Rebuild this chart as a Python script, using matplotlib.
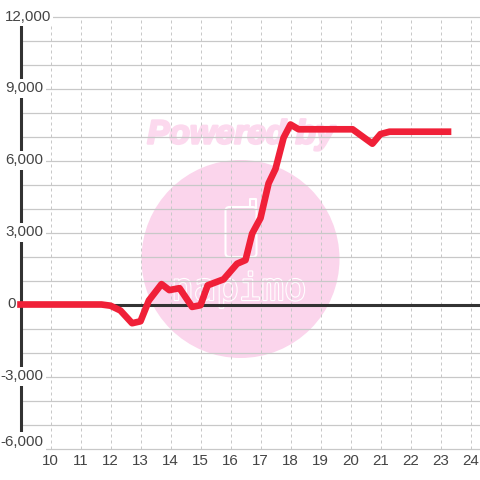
import matplotlib
matplotlib.use("Agg")
import matplotlib.pyplot as plt
import matplotlib.patheffects as pe
from matplotlib.patches import Circle, FancyBboxPatch

hours = [9, 11.7, 12, 12.33, 12.72, 13, 13.28, 13.7, 13.96, 14.3, 14.72, 15, 15.24, 15.77, 16.22, 16.5, 16.72, 17, 17.27, 17.5, 17.77, 18, 18.27, 20.07, 20.4, 20.73, 21.0, 21.3, 23.25]
values = [0, 0, -50, -250, -780, -700, 170, 850, 600, 680, -100, -30, 800, 1050, 1700, 1850, 2950, 3600, 5050, 5650, 6950, 7500, 7300, 7300, 7000, 6700, 7100, 7200, 7200]
xticks = list(range(10, 25))
yticks = list(range(-6000, 12001, 3000))
grid_levels = list(range(-6000, 12001, 1000))

plt.rcParams['font.family'] = ['Liberation Sans', 'DejaVu Sans']
fig = plt.figure(figsize=(4.8, 4.8), dpi=100)

# watermark layer, in pixel units of the picture
bg = fig.add_axes([0, 0, 1, 1], zorder=0)
bg.set_xlim(0, 480)
bg.set_ylim(480, 0)
bg.axis('off')
pink = '#fbd5ec'
bg.add_patch(Circle((240.5, 259), 99, color=pink, lw=0))
bg.add_patch(FancyBboxPatch((225.5, 207), 31, 50, boxstyle='round,pad=0,rounding_size=4', fc='none', ec='white', lw=1.5))
bg.plot([250, 250, 256, 256], [207, 199, 199, 207], color='white', lw=1.5)
bg.text(241, 135, 'Powered by', fontsize=24, fontweight='bold', style='italic', color='#fcd9ee', ha='center', va='center',
        path_effects=[pe.withStroke(linewidth=1.8, foreground='#fcd9ee')])
bg.text(239, 290, 'napimo', fontsize=27, family='DejaVu Sans Mono', color=pink, ha='center', va='center',
        path_effects=[pe.withStroke(linewidth=1.6, foreground='white')])

ax = fig.add_axes([0, 0, 1, 1], zorder=1)
ax.patch.set_alpha(0)
x0 = 9 - 20.5 / 30
ax.set_xlim(x0, x0 + 16)
ax.set_ylim(-(480 - 304.5) / 24 * 1000, 304.5 / 24 * 1000)
ax.axis('off')

grid = '#c8c8c8'
dark = '#444444'
for v in grid_levels:
    ax.plot([9, x0 + 16], [v, v], color=grid, lw=0.9, zorder=1, solid_capstyle='butt')
for h in xticks:
    ax.plot([h, h], [-6000, 12000], color=grid, lw=0.72, ls=(0, (3, 3)), zorder=1)
ax.plot([9, x0 + 16], [0, 0], color='#333333', lw=2.2, zorder=3, solid_capstyle='butt')
ax.plot([9, 9], [-5480, 11690], color='#333333', lw=2.2, zorder=3, solid_capstyle='butt')
ax.plot(hours, values, color='#f02038', lw=4.8, zorder=4, solid_joinstyle='round', solid_capstyle='projecting')

def label_pos(v):
    if v == 12000:
        return 9 + (51 - 20.5) / 30, v - 20
    if v == -6000:
        return 9 + (43.5 - 20.5) / 30, v + 290
    if v == 0:
        return 9 + (16 - 20.5) / 30, v
    return 9 + (43.5 - 20.5) / 30, v

for v in yticks:
    px, py = label_pos(v)
    ax.text(px, py, f'{v:,}', ha='right', va='center', fontsize=10.9, color=dark, zorder=5 if v else 2,
            bbox=None if v == 0 else dict(fc='white', ec='none', pad=1.5))
for h in xticks:
    ax.text(h, -6520, str(h), ha='center', va='center', fontsize=10.9, color=dark, zorder=5)
fig.savefig('out.png', dpi=100)
